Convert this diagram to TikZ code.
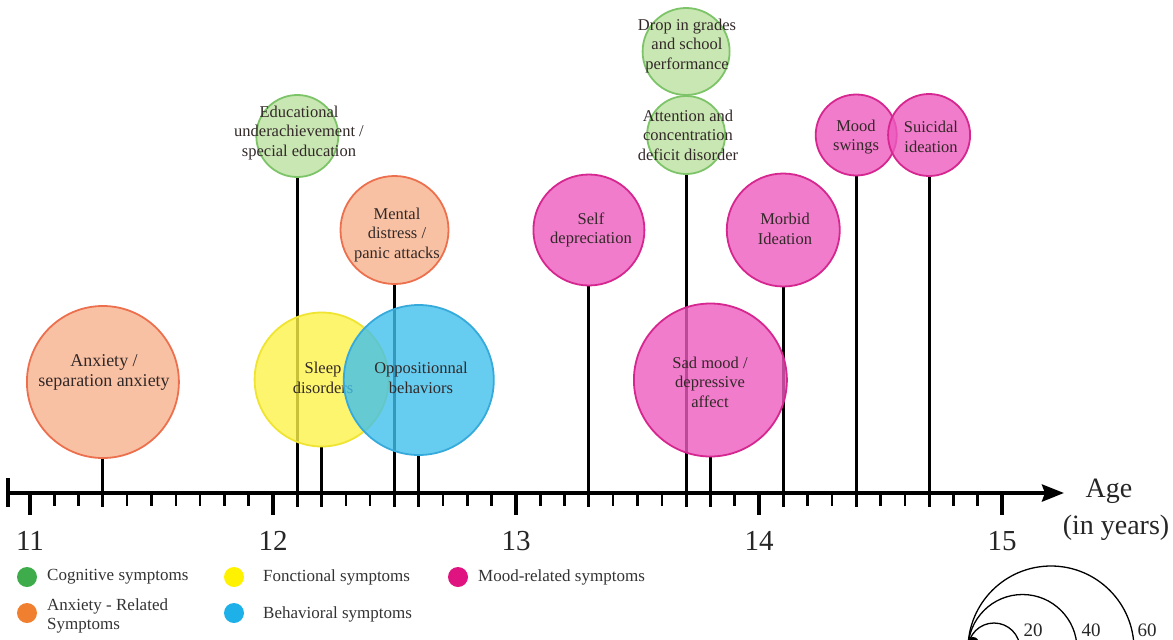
\documentclass[tikz,border=0pt]{standalone}
\usepackage{fontspec}
\setmainfont{Liberation Serif}
\usetikzlibrary{arrows.meta,backgrounds}
\definecolor{pnkF}{RGB}{236,91,190}
\definecolor{pnkD}{RGB}{214,38,143}
\definecolor{oraF}{RGB}{248,178,140}
\definecolor{oraD}{RGB}{236,112,78}
\definecolor{cogF}{RGB}{188,225,160}
\definecolor{cogD}{RGB}{125,196,105}
\definecolor{yelF}{RGB}{252,243,72}
\definecolor{yelD}{RGB}{240,228,50}
\definecolor{bluF}{RGB}{64,192,236}
\definecolor{bluD}{RGB}{55,170,220}
\definecolor{lgGreen}{RGB}{62,172,74}
\definecolor{lgOrange}{RGB}{240,128,48}
\definecolor{lgYellow}{RGB}{255,242,0}
\definecolor{lgBlue}{RGB}{30,176,232}
\definecolor{lgPink}{RGB}{224,20,128}
\definecolor{txt}{RGB}{50,40,40}
\tikzset{
  bub/.style={circle, inner sep=0pt, line width=1.8pt, fill opacity=0.8, draw opacity=1},
  pnk/.style={bub, draw=pnkD, fill=pnkF},
  ora/.style={bub, draw=oraD, fill=oraF},
  cog/.style={bub, draw=cogD, fill=cogF},
  yel/.style={bub, draw=yelD, fill=yelF},
  blu/.style={bub, draw=bluD, fill=bluF},
  ctext/.style={align=center, inner sep=0pt, text=txt, font=\fontsize{16.5}{19.5}\selectfont},
  evline/.style={line width=3pt, black},
  minortick/.style={line width=2.5pt, black},
  majortick/.style={line width=4pt, black},
  axlab/.style={inner sep=0pt, anchor=base, text=black!85, font=\fontsize{29}{33}\selectfont},
  ldot/.style={circle, inner sep=0pt, minimum size=20pt},
  legtext/.style={anchor=west, inner sep=0pt, align=left, text=black!80, font=\fontsize{17}{19.5}\selectfont},
  szcirc/.style={line width=1.3pt, black},
  szlab/.style={inner sep=0pt, anchor=base, text=black!85, font=\fontsize{19}{22}\selectfont}
}
\begin{document}
\begin{tikzpicture}[x=1pt,y=-1pt]
\useasboundingbox (0,0) rectangle (1173,640);

% bubbles and their texts
\node[ora, minimum size=152pt] (anx) at (102.9,382) {};
\node[ctext, font=\fontsize{18}{20}\selectfont] (anxT) at (104,372) {Anxiety /\\separation anxiety};
\node[cog, minimum size=82pt] (edu) at (297.3,136) {};
\node[ctext] (eduT) at (299,133) {Educational\\underachievement /\\special education};
\node[yel, minimum size=134pt] (slp) at (321.6,379.5) {};
\node[ctext] (slpT) at (323,378) {Sleep\\disorders};
\node[ora, minimum size=108pt] (men) at (394.5,230) {};
\node[ctext] (menT) at (397,235) {Mental\\distress /\\panic attacks};
\node[blu, minimum size=150pt] (opp) at (418.8,380) {};
\node[ctext] (oppT) at (421,378) {Oppositionnal\\behaviors};
\node[pnk, minimum size=111pt] (slf) at (588.9,230) {};
\node[ctext] (slfT) at (591,230) {Self\\depreciation};
\node[cog, minimum size=87pt] (drp) at (686.1,51.5) {};
\node[ctext] (drpT) at (687,46) {Drop in grades\\and school\\performance};
\node[cog, minimum size=78pt] (att) at (686.1,135) {};
\node[ctext] (attT) at (688,135) {Attention and\\concentration\\deficit disorder};
\node[pnk, minimum size=153pt] (sad) at (710.4,380) {};
\node[ctext] (sadT) at (710,382) {Sad mood /\\depressive\\affect};
\node[pnk, minimum size=113pt] (mor) at (783.3,230) {};
\node[ctext] (morT) at (785,229) {Morbid\\Ideation};
\node[pnk, minimum size=81pt] (swi) at (856.2,135) {};
\node[ctext] (swiT) at (856,137) {Mood\\swings};
\node[pnk, minimum size=82pt] (sui) at (929.1,135) {};
\node[ctext] (suiT) at (931,137) {Suicidal\\ideation};

% axis coordinates
\coordinate (axs) at (8,493);
\coordinate (axe) at (1064,493);
\coordinate (e1) at (102.9,507);
\coordinate (e2) at (297.3,507);
\coordinate (e3) at (321.6,507);
\coordinate (e4) at (394.5,507);
\coordinate (e5) at (418.8,507);
\coordinate (e6) at (588.9,507);
\coordinate (e7) at (686.1,507);
\coordinate (e8) at (710.4,507);
\coordinate (e9) at (783.3,507);
\coordinate (e10) at (856.2,507);
\coordinate (e11) at (929.1,507);

\begin{scope}[on background layer]
  \draw[evline] (anx.south) -- (e1);
  \draw[evline] (edu.south) -- (e2);
  \draw[evline] (slp.south) -- (e3);
  \draw[evline] (men.south) -- (e4);
  \draw[evline] (opp.south) -- (e5);
  \draw[evline] (slf.south) -- (e6);
  \draw[evline] (att.south) -- (e7);
  \draw[evline] (sad.south) -- (e8);
  \draw[evline] (mor.south) -- (e9);
  \draw[evline] (swi.south) -- (e10);
  \draw[evline] (sui.south) -- (e11);
\end{scope}

% axis
\foreach \i in {0,...,40} { \draw[minortick] ({30+24.3*\i},493) -- ++(0,13); }
\foreach \i in {0,...,4} { \draw[majortick] ({30+243*\i},493) -- ++(0,22); }
\draw[line width=4pt, -{Stealth[length=22pt,width=17pt,inset=3pt]}] (axs) -- (axe);
\draw[line width=4pt] (8,478) -- (8,507);

\node[axlab] (n11) at (30,550) {11};
\node[axlab] (n12) at (273,550) {12};
\node[axlab] (n13) at (516,550) {13};
\node[axlab] (n14) at (759,550) {14};
\node[axlab] (n15) at (1002,550) {15};
\node[axlab, font=\fontsize{28}{32}\selectfont] (age) at (1109,497) {Age};
\node[axlab, font=\fontsize{28}{32}\selectfont] (yrs) at (1116,534) {(in years)};

% colour legend
\node[ldot, fill=lgGreen] (l1) at (27,577) {};
\node[legtext] (l1t) at (47,577) {Cognitive symptoms};
\node[ldot, fill=lgOrange] (l2) at (27,613) {};
\node[legtext] (l2t) at (47,616) {Anxiety - Related\\Symptoms};
\node[ldot, fill=lgYellow] (l3) at (234,577) {};
\node[legtext] (l3t) at (263,577) {Fonctional symptoms};
\node[ldot, fill=lgBlue] (l4) at (234,613) {};
\node[legtext] (l4t) at (263,614) {Behavioral symptoms};
\node[ldot, fill=lgPink] (l5) at (458,577) {};
\node[legtext] (l5t) at (478,577) {Mood-related symptoms};

% size legend
\draw[szcirc] (994,649) circle[radius=26];
\draw[szcirc] (1022.5,649) circle[radius=54.5];
\draw[szcirc] (1051,649) circle[radius=83];
\fill[black] (973,643) circle[radius=6];
\node[szlab] (s20) at (1033,636) {20};
\node[szlab] (s40) at (1091,636) {40};
\node[szlab] (s60) at (1147,636) {60};
\end{tikzpicture}
\end{document}
